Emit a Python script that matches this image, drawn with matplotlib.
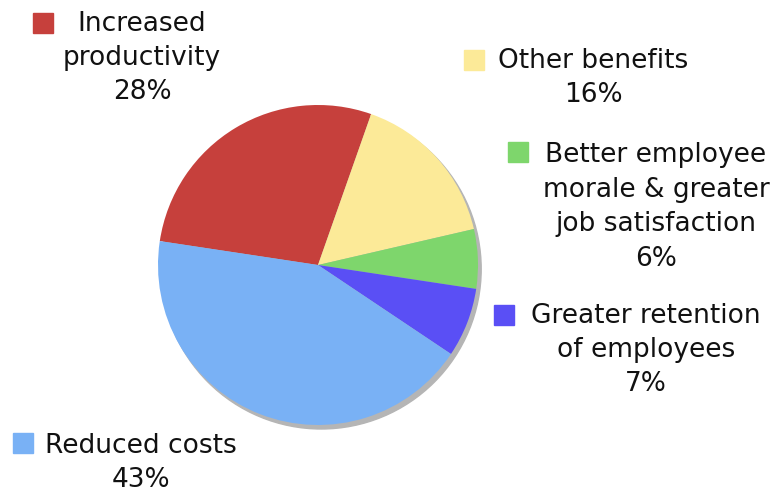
import matplotlib
matplotlib.use('Agg')
import matplotlib.pyplot as plt
from matplotlib.patches import Circle, Rectangle

# shares of respondents, in clockwise order from the left edge
labels = ['Increased\nproductivity', 'Other benefits', 'Better employee\nmorale & greater\njob satisfaction',
          'Greater retention\nof employees', 'Reduced costs']
values = [28, 16, 6, 7, 43]
colors = ['#C6403C', '#FCEA98', '#7ED66C', '#5A4FF5', '#79B1F5']

W, H = 784, 492
fig = plt.figure(figsize=(W / 100, H / 100), dpi=100)

# pie centre at (318, 265) px, radius 160 px
ax = fig.add_axes([(318 - 200) / W, (H - 265 - 200) / H, 400 / W, 400 / H])
ax.set_xlim(-1.25, 1.25)
ax.set_ylim(-1.25, 1.25)
ax.set_aspect('equal')
ax.axis('off')

# soft grey shadow behind the pie
ax.add_patch(Circle((0.02, -0.025), 1.0, color='#b5b5b5', zorder=0))
ax.pie(values, colors=colors, startangle=171.4, counterclock=False,
       radius=1.0, wedgeprops=dict(linewidth=0), frame=False)
ax.set_xlim(-1.25, 1.25)
ax.set_ylim(-1.25, 1.25)


def px(x, y):
    return x / W, 1 - y / H


# label block centre (px), square top-left (px)
text_pos = [(142, 58), (593, 78), (656, 207), (646, 350), (141, 463)]
square_pos = [(33, 13), (464, 50), (508, 142), (494, 305), (13, 433)]

for lab, v, c, (tx, ty), (sx, sy) in zip(labels, values, colors, text_pos, square_pos):
    fx, fy = px(tx, ty)
    fig.text(fx, fy, '%s\n%d%%' % (lab, v), ha='center', va='center',
             fontsize=19, linespacing=1.42, color='#111111', family='DejaVu Sans')
    rx, ry = px(sx, sy + 20)
    fig.patches.append(Rectangle((rx, ry), 20 / W, 20 / H, transform=fig.transFigure,
                                 color=c, figure=fig))

fig.savefig('out.png', dpi=100)
